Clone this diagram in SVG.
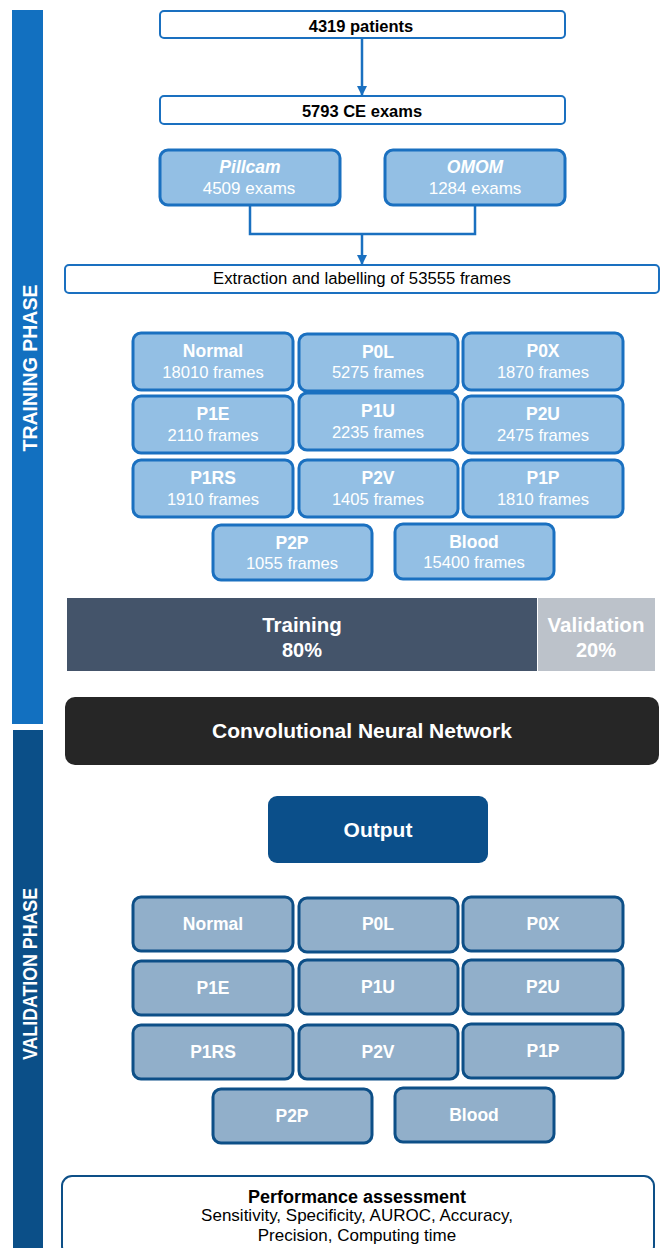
<svg xmlns="http://www.w3.org/2000/svg" width="665" height="1248" viewBox="0 0 665 1248">
  <style>
    text { font-family: "Liberation Sans", Arial, sans-serif; text-anchor: middle; }
    .b { font-weight: bold; }
    .w { fill: #ffffff; }
    .k { fill: #000000; }
    .box-white { fill: #ffffff; stroke: #1a70c0; stroke-width: 2; }
    .box-src { fill: #93bfe4; stroke: #1a70c0; stroke-width: 3; }
    .box-cls { fill: #93bfe4; stroke: #1a70c0; stroke-width: 3; }
    .box-out { fill: #91afca; stroke: #0d4f87; stroke-width: 3; }
    .conn { fill: none; stroke: #1a70c0; stroke-width: 2.5; }
    .name { font-weight: bold; font-size: 17.5px; fill: #ffffff; }
    .count { font-size: 16.6px; fill: #ffffff; }
  </style>
  <defs>
    <marker id="arrow" viewBox="0 0 10 10" refX="9" refY="5" markerWidth="4" markerHeight="4" orient="auto">
      <path d="M0,0 L10,5 L0,10 z" fill="#1a70c0"/>
    </marker>
  </defs>

  <!-- phase bands -->
  <g id="training-phase">
    <rect x="12" y="10" width="31" height="714" fill="#1270c0"/>
    <text class="b w" font-size="19.5" textLength="167" lengthAdjust="spacingAndGlyphs" transform="translate(37,368) rotate(-90)">TRAINING PHASE</text>
  </g>
  <g id="validation-phase">
    <rect x="13" y="730" width="30" height="518" fill="#0b4f88"/>
    <text class="b w" font-size="19.5" textLength="172" lengthAdjust="spacingAndGlyphs" transform="translate(37,974) rotate(-90)">VALIDATION PHASE</text>
  </g>

  <!-- connectors -->
  <g id="connectors">
    <line class="conn" x1="362" y1="38" x2="362" y2="95" marker-end="url(#arrow)"/>
    <polyline class="conn" points="250,205 250,234 475,234 475,205"/>
    <line class="conn" x1="362" y1="234" x2="362" y2="264" marker-end="url(#arrow)"/>
  </g>

  <g id="patients">
    <rect class="box-white" x="160" y="11" width="405" height="27" rx="4"/>
    <text class="b k" x="361" y="32" font-size="16.5">4319 patients</text>
  </g>
  <g id="ce-exams">
    <rect class="box-white" x="160" y="96" width="405" height="28" rx="4"/>
    <text class="b k" x="362" y="117" font-size="16.5">5793 CE exams</text>
  </g>
  <g id="pillcam">
    <rect class="box-src" x="160" y="150" width="180" height="55" rx="8"/>
    <text class="b w" x="250" y="173" font-size="17.5" font-style="italic">Pillcam</text>
    <text class="w" x="249" y="194" font-size="17">4509 exams</text>
  </g>
  <g id="omom">
    <rect class="box-src" x="385" y="150" width="180" height="55" rx="8"/>
    <text class="b w" x="475" y="173" font-size="17.5" font-style="italic">OMOM</text>
    <text class="w" x="475" y="194" font-size="17">1284 exams</text>
  </g>
  <g id="extraction">
    <rect class="box-white" x="65" y="265" width="594" height="28" rx="4"/>
    <text class="k" x="362" y="284" font-size="16.7">Extraction and labelling of 53555 frames</text>
  </g>

  <!-- training classes -->
  <g id="t-normal"><rect class="box-cls" x="133" y="333" width="160" height="57" rx="8"/>
    <text class="name" x="213" y="357">Normal</text><text class="count" x="213" y="378">18010 frames</text></g>
  <g id="t-p0l"><rect class="box-cls" x="299" y="334" width="159" height="57" rx="8"/>
    <text class="name" x="378" y="358">P0L</text><text class="count" x="378" y="378">5275 frames</text></g>
  <g id="t-p0x"><rect class="box-cls" x="463" y="333" width="160" height="57" rx="8"/>
    <text class="name" x="543" y="357">P0X</text><text class="count" x="543" y="378">1870 frames</text></g>

  <g id="t-p1e"><rect class="box-cls" x="133" y="396" width="160" height="57" rx="8"/>
    <text class="name" x="213" y="420">P1E</text><text class="count" x="213" y="441">2110 frames</text></g>
  <g id="t-p1u"><rect class="box-cls" x="299" y="393" width="159" height="57" rx="8"/>
    <text class="name" x="378" y="417">P1U</text><text class="count" x="378" y="438">2235 frames</text></g>
  <g id="t-p2u"><rect class="box-cls" x="463" y="396" width="160" height="57" rx="8"/>
    <text class="name" x="543" y="420">P2U</text><text class="count" x="543" y="441">2475 frames</text></g>

  <g id="t-p1rs"><rect class="box-cls" x="133" y="460" width="160" height="57" rx="8"/>
    <text class="name" x="213" y="484">P1RS</text><text class="count" x="213" y="505">1910 frames</text></g>
  <g id="t-p2v"><rect class="box-cls" x="299" y="460" width="159" height="57" rx="8"/>
    <text class="name" x="378" y="484">P2V</text><text class="count" x="378" y="505">1405 frames</text></g>
  <g id="t-p1p"><rect class="box-cls" x="463" y="460" width="160" height="57" rx="8"/>
    <text class="name" x="543" y="484">P1P</text><text class="count" x="543" y="505">1810 frames</text></g>

  <g id="t-p2p"><rect class="box-cls" x="213" y="525" width="159" height="55" rx="8"/>
    <text class="name" x="292" y="549">P2P</text><text class="count" x="292" y="569">1055 frames</text></g>
  <g id="t-blood"><rect class="box-cls" x="395" y="524" width="159" height="55" rx="8"/>
    <text class="name" x="474" y="548">Blood</text><text class="count" x="474" y="568">15400 frames</text></g>

  <!-- data split -->
  <g id="split-training">
    <rect x="67" y="598" width="470" height="73" fill="#44546a"/>
    <text class="b w" x="302" y="632" font-size="20.5">Training</text>
    <text class="b w" x="302" y="657" font-size="20">80%</text>
  </g>
  <g id="split-validation">
    <rect x="538" y="598" width="117" height="73" fill="#bcc2ca"/>
    <text class="b w" x="596" y="632" font-size="20.5">Validation</text>
    <text class="b w" x="596" y="657" font-size="20">20%</text>
  </g>

  <g id="cnn">
    <rect x="65" y="697" width="594" height="68" rx="10" fill="#262626"/>
    <text class="b w" x="362" y="738" font-size="21">Convolutional Neural Network</text>
  </g>
  <g id="output">
    <rect x="268" y="796" width="220" height="67" rx="9" fill="#0b4f8a"/>
    <text class="b w" x="378" y="837" font-size="21">Output</text>
  </g>

  <!-- validation classes -->
  <g id="v-normal"><rect class="box-out" x="133" y="897" width="160" height="54" rx="8"/><text class="name" x="213" y="930">Normal</text></g>
  <g id="v-p0l"><rect class="box-out" x="299" y="898" width="159" height="54" rx="8"/><text class="name" x="378" y="930">P0L</text></g>
  <g id="v-p0x"><rect class="box-out" x="463" y="897" width="160" height="54" rx="8"/><text class="name" x="543" y="930">P0X</text></g>

  <g id="v-p1e"><rect class="box-out" x="133" y="961" width="160" height="54" rx="8"/><text class="name" x="213" y="994">P1E</text></g>
  <g id="v-p1u"><rect class="box-out" x="299" y="960" width="159" height="54" rx="8"/><text class="name" x="378" y="993">P1U</text></g>
  <g id="v-p2u"><rect class="box-out" x="463" y="960" width="160" height="54" rx="8"/><text class="name" x="543" y="993">P2U</text></g>

  <g id="v-p1rs"><rect class="box-out" x="133" y="1025" width="160" height="54" rx="8"/><text class="name" x="213" y="1058">P1RS</text></g>
  <g id="v-p2v"><rect class="box-out" x="299" y="1025" width="159" height="54" rx="8"/><text class="name" x="378" y="1058">P2V</text></g>
  <g id="v-p1p"><rect class="box-out" x="463" y="1024" width="160" height="54" rx="8"/><text class="name" x="543" y="1057">P1P</text></g>

  <g id="v-p2p"><rect class="box-out" x="213" y="1089" width="159" height="54" rx="8"/><text class="name" x="292" y="1122">P2P</text></g>
  <g id="v-blood"><rect class="box-out" x="395" y="1088" width="159" height="54" rx="8"/><text class="name" x="474" y="1121">Blood</text></g>

  <g id="performance">
    <rect x="62" y="1176" width="592" height="80" rx="10" fill="#ffffff" stroke="#0d4f87" stroke-width="2"/>
    <text class="b k" x="357" y="1203" font-size="18">Performance assessment</text>
    <text class="k" x="357" y="1221" font-size="17">Sensitivity, Specificity, AUROC, Accuracy,</text>
    <text class="k" x="357" y="1241" font-size="17">Precision, Computing time</text>
  </g>
</svg>
